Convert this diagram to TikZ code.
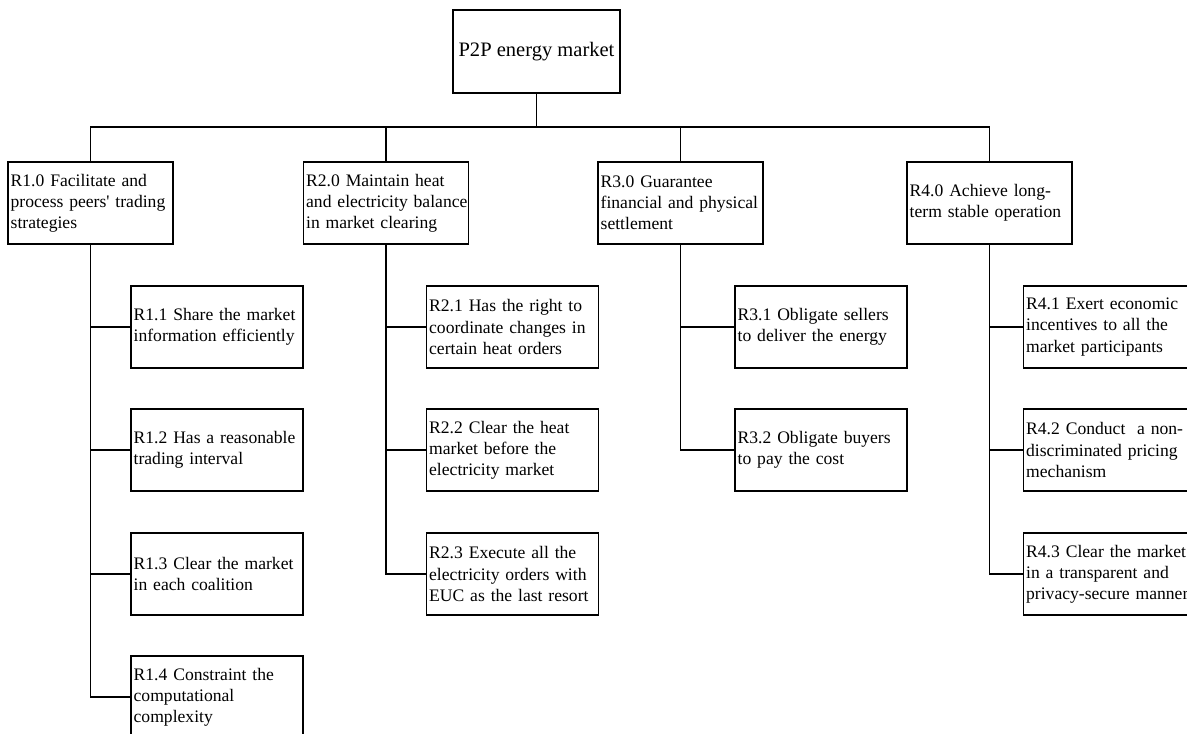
\documentclass[tikz,border=0pt]{standalone}
\usepackage{fontspec}
\setmainfont{Liberation Serif}
\usetikzlibrary{positioning}
\tikzset{
  root/.style={rectangle,draw=black,line width=1pt,minimum width=125.25pt,minimum height=62.25pt,inner sep=2pt,font=\fontsize{15.4}{18}\selectfont},
  goal/.style={rectangle,draw=black,line width=1pt,text width=119.75pt,minimum height=61.5pt,inner xsep=2pt,inner ysep=1pt,align=left,font=\fontsize{13.2}{15.9}\selectfont},
  sub/.style={rectangle,draw=black,line width=1pt,text width=125pt,minimum height=61.5pt,inner xsep=2pt,inner ysep=1pt,align=left,font=\fontsize{13.2}{15.9}\selectfont},
  link/.style={draw=black,line width=1pt},
}
\begin{document}
\begin{tikzpicture}[x=0.75pt,y=-0.75pt]
  \useasboundingbox (0,0) rectangle (1187,734);
  \node[root] (p2p) at (536.5,51.5) {P2P energy market};
  \coordinate (bus) at (536.5,127);
  % requirement level 1
  \node[goal] (r1) at (90.5,203) {R1.0 Facilitate and\\process peers\textquotesingle{} trading\\strategies};
  \node[goal] (r2) at (386,203) {R2.0 Maintain heat\\\mbox{and electricity balance}\\in market clearing};
  \node[goal] (r3) at (680.5,203) {R3.0 Guarantee\\financial and physical\\settlement};
  \node[goal] (r4) at (989.5,203) {R4.0 Achieve long-\\term stable operation};
  % requirement level 2
  \node[sub] (r11) at (217,327) {R1.1 Share the market\\information efficiently};
  \node[sub] (r12) at (217,450) {R1.2 Has a reasonable\\trading interval};
  \node[sub] (r13) at (217,574) {R1.3 Clear the market\\in each coalition};
  \node[sub] (r14) at (217,697) {R1.4 Constraint the\\computational\\complexity};
  \node[sub] (r21) at (512.5,327) {R2.1 Has the right to\\coordinate changes in\\certain heat orders};
  \node[sub] (r22) at (512.5,450) {R2.2 Clear the heat\\market before the\\electricity market};
  \node[sub] (r23) at (512.5,574) {R2.3 Execute all the\\electricity orders with\\EUC as the last resort};
  \node[sub] (r31) at (821,327) {R3.1 Obligate sellers\\to deliver the energy};
  \node[sub] (r32) at (821,450) {R3.2 Obligate buyers\\to pay the cost};
  \node[sub] (r41) at (1109.5,327) {R4.1 Exert economic\\incentives to all the\\market participants};
  \node[sub] (r42) at (1109.5,450) {R4.2 Conduct\ \ a non-\\discriminated pricing\\mechanism};
  \node[sub] (r43) at (1109.5,574) {R4.3 Clear the market\\in a transparent and\\privacy-secure manner};
  % connectors
  \draw[link] (p2p.south) -- (bus);
  \foreach \g in {r1,r2,r3,r4}
    \draw[link] (bus) -| (\g.north);
  \foreach \g/\s in {r1/r11,r1/r12,r1/r13,r1/r14,r2/r21,r2/r22,r2/r23,r3/r31,r3/r32,r4/r41,r4/r42,r4/r43}
    \draw[link] (\g.south) |- (\s.west);
\end{tikzpicture}
\end{document}
